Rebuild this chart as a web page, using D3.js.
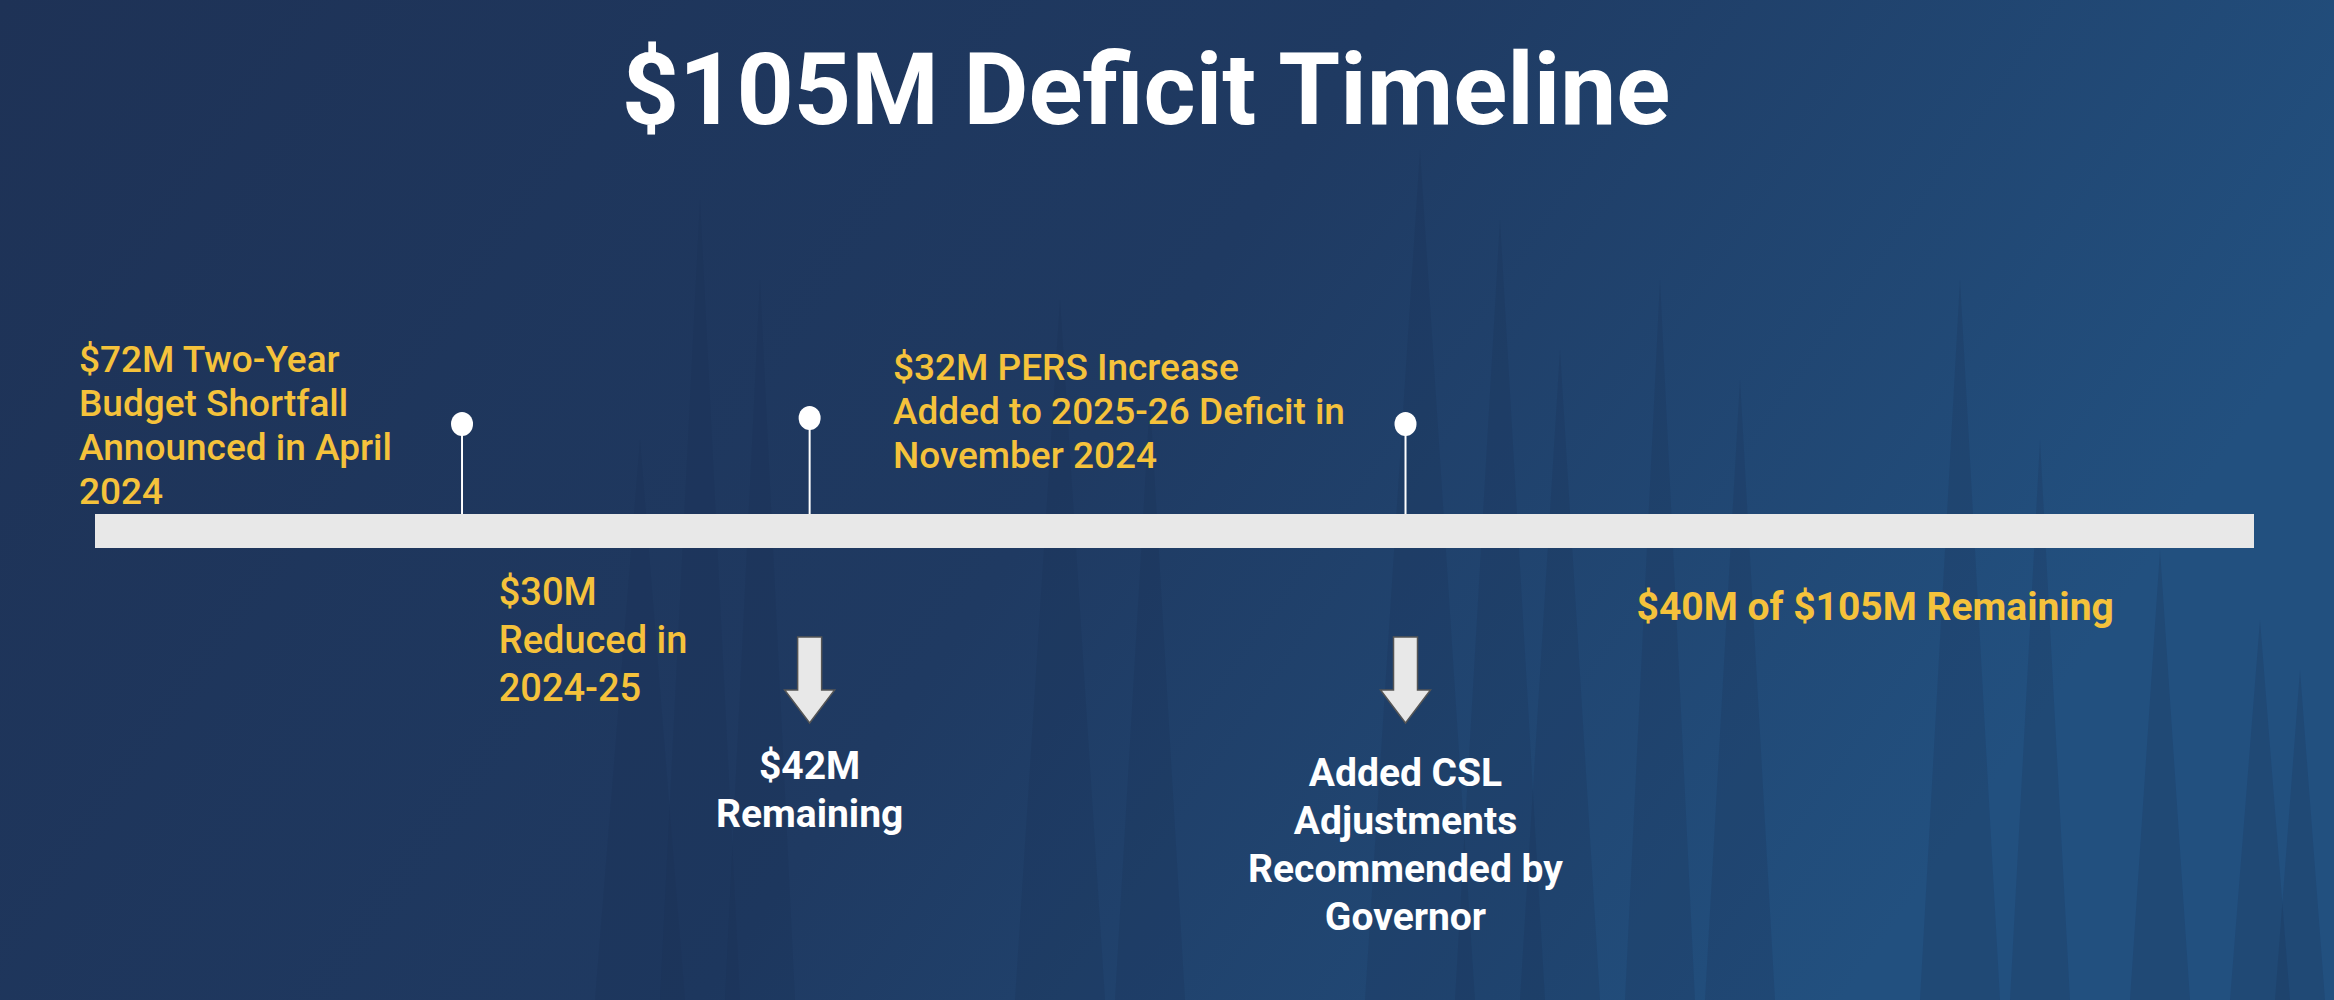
<!DOCTYPE html>
<html>
<head>
<meta charset="utf-8">
<script src="https://cdn.jsdelivr.net/npm/d3@7"></script>
<style>
  html, body { margin: 0; padding: 0; background: #1f3357; }
  svg { display: block; font-family: Roboto, "Noto Sans", sans-serif; }
</style>
</head>
<body>
<svg id="chart" width="2334" height="1000"></svg>
<script>
const title = "$105M Deficit Timeline";

// timeline events, position on a 0..100 track
const pins = [
  { pos: 17, lift: 0 },
  { pos: 33.1, lift: 6 },
  { pos: 60.7, lift: 0 }
];

const topLabels = [
  { pos: 0, lines: ["$72M Two-Year", "Budget Shortfall", "Announced in April", "2024"] },
  { pos: 37.7, lines: ["$32M PERS Increase", "Added to 2025-26 Deficit in", "November 2024"] }
];

const bottomYellow = [
  { pos: 18.7, lines: ["$30M", "Reduced in", "2024-25"], bold: false },
  { pos: 71.4, lines: ["$40M of $105M Remaining"], bold: true }
];

const arrowNotes = [
  { pos: 33.1, lines: ["$42M", "Remaining"] },
  { pos: 60.7, lines: ["Added CSL", "Adjustments", "Recommended by", "Governor"] }
];

// background tree silhouettes: [x, height, width]
const trees = [
  [640, 560, 90], [700, 800, 80], [760, 720, 70], [1060, 700, 90], [1150, 600, 70],
  [1420, 850, 110], [1500, 780, 90], [1560, 650, 80], [1660, 720, 70], [1740, 620, 70],
  [1960, 720, 80], [2040, 560, 60], [2160, 450, 60], [2260, 380, 60], [2300, 330, 50]
];

const svg = d3.select("#chart");
const W = 2334, H = 1000;

const defs = svg.append("defs");
const grad = defs.append("linearGradient").attr("id", "bg").attr("x1", 0).attr("x2", 1).attr("y1", 0).attr("y2", 0.3);
grad.append("stop").attr("offset", "0%").attr("stop-color", "#1e3256");
grad.append("stop").attr("offset", "55%").attr("stop-color", "#1f3a62");
grad.append("stop").attr("offset", "100%").attr("stop-color", "#22507f");
svg.append("rect").attr("width", W).attr("height", H).attr("fill", "url(#bg)");

svg.append("g").selectAll("path").data(trees).join("path")
  .attr("d", ([x, h, w]) => `M${x},${H - h} L${x - w / 2},${H} L${x + w / 2},${H} Z`)
  .attr("fill", "#1a2f52").attr("opacity", 0.2);

svg.append("text").attr("x", 1146).attr("y", 124)
  .attr("text-anchor", "middle").attr("fill", "#fff")
  .attr("font-size", 100).attr("font-weight", 700).text(title);

const x = d3.scaleLinear().domain([0, 100]).range([95, 2254]);
const barY = 514, barH = 34;

svg.append("rect").attr("x", x(0)).attr("y", barY).attr("width", x(100) - x(0)).attr("height", barH)
  .attr("fill", "#e8e8e8");

const pg = svg.append("g");
pg.selectAll("line").data(pins).join("line")
  .attr("x1", d => x(d.pos)).attr("x2", d => x(d.pos))
  .attr("y1", d => 424 - d.lift).attr("y2", barY)
  .attr("stroke", "#fff").attr("stroke-width", 2);
pg.selectAll("ellipse").data(pins).join("ellipse")
  .attr("cx", d => x(d.pos)).attr("cy", d => 424 - d.lift)
  .attr("rx", 11).attr("ry", 12).attr("fill", "#fff");

function multiline(sel, lh) {
  sel.each(function (d) {
    d3.select(this).selectAll("tspan").data(d.lines).join("tspan")
      .attr("x", d3.select(this).attr("x")).attr("dy", (l, i) => i === 0 ? 0 : lh)
      .text(l => l);
  });
}

const yellow = "#f5c23b";
svg.append("g").selectAll("text").data(topLabels).join("text")
  .attr("x", d => x(d.pos) - 16).attr("y", (d, i) => i === 0 ? 372 : 380)
  .attr("fill", yellow).attr("font-size", 37).attr("font-weight", 500)
  .call(multiline, 44);

svg.append("g").selectAll("text").data(bottomYellow).join("text")
  .attr("x", d => x(d.pos)).attr("y", d => d.bold ? 620 : 605)
  .attr("fill", yellow).attr("font-size", d => d.bold ? 39 : 38)
  .attr("font-weight", d => d.bold ? 700 : 500)
  .call(multiline, 48);

const ag = svg.append("g");
ag.selectAll("path").data(arrowNotes).join("path")
  .attr("d", d => {
    const c = x(d.pos), t = 637, b = 723, s = 12, hw = 25, hy = 690;
    return `M${c - s},${t} L${c + s},${t} L${c + s},${hy} L${c + hw},${hy} L${c},${b} L${c - hw},${hy} L${c - s},${hy} Z`;
  })
  .attr("fill", "#e8e8e8").attr("stroke", "#555").attr("stroke-width", 1.5);

ag.selectAll("text").data(arrowNotes).join("text")
  .attr("x", d => x(d.pos)).attr("y", (d, i) => i === 0 ? 779 : 786)
  .attr("text-anchor", "middle").attr("fill", "#fff")
  .attr("font-size", 39).attr("font-weight", 700)
  .call(multiline, 48);
</script>
</body>
</html>
